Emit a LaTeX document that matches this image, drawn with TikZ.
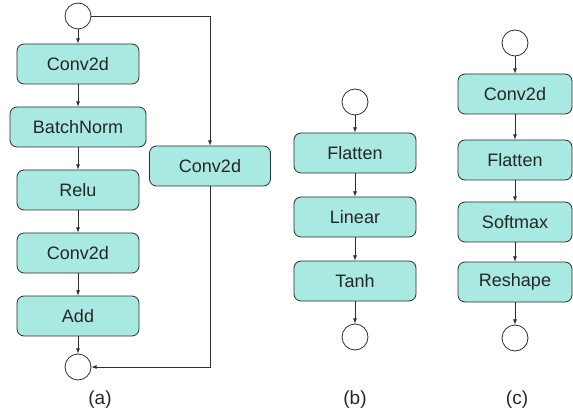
\documentclass[tikz,border=0pt]{standalone}
\usepackage{fontspec}
\setmainfont{Liberation Sans}
\usetikzlibrary{arrows}
\definecolor{layerfill}{RGB}{168,233,225}
\definecolor{edgegray}{RGB}{45,45,45}
\tikzset{
  layer/.style={draw=edgegray,fill=layerfill,rounded corners=7pt,line width=0.8pt,
    minimum width=122pt,minimum height=40pt,inner sep=0pt,text=black!85,
    font=\fontsize{18}{21}\selectfont},
  port/.style={draw=edgegray,circle,minimum size=26pt,inner sep=0pt,line width=0.8pt},
  flow/.style={->,draw=edgegray,line width=0.8pt},
  caption/.style={font=\fontsize{19}{22}\selectfont,text=black!85}
}

\begin{document}
\begin{tikzpicture}[x=1pt,y=-1pt,>=latex]
  \useasboundingbox (0,0) rectangle (573,414);
  % The residual block
  \node[port] (ain) at (78,16) {};
  \node[layer] (a1) at (78,64) {Conv2d};
  \node[layer,minimum width=136pt] (a2) at (78,127) {BatchNorm};
  \node[layer] (a3) at (78,190) {Relu};
  \node[layer] (a4) at (78,253) {Conv2d};
  \node[layer] (a5) at (78,316) {Add};
  \node[port] (aout) at (78,367) {};
  \node[layer,minimum width=121pt] (askip) at (210,166) {Conv2d};
  \foreach \from/\to in {ain/a1,a1/a2,a2/a3,a3/a4,a4/a5,a5/aout}
    \draw[flow] (\from) -- (\to);
  % The shortcut branch
  \draw[flow] (ain.east) -| (askip.north);
  \draw[flow] (askip.south) |- (aout.east);
  \node[caption] (capa) at (100,400) {(a)};

  % The value head
  \node[port] (bin) at (355,102) {};
  \node[layer] (b1) at (355,153) {Flatten};
  \node[layer] (b2) at (355,217) {Linear};
  \node[layer] (b3) at (355,281) {Tanh};
  \node[port] (bout) at (355,337) {};
  \foreach \from/\to in {bin/b1,b1/b2,b2/b3,b3/bout}
    \draw[flow] (\from) -- (\to);
  \node[caption] (capb) at (355,400) {(b)};

  % The policy head
  \node[port] (cin) at (515,43) {};
  \node[layer,minimum width=114pt] (c1) at (515,94) {Conv2d};
  \node[layer,minimum width=114pt] (c2) at (515,160) {Flatten};
  \node[layer,minimum width=114pt] (c3) at (515,222) {Softmax};
  \node[layer,minimum width=114pt] (c4) at (515,282) {Reshape};
  \node[port] (cout) at (515,338) {};
  \foreach \from/\to in {cin/c1,c1/c2,c2/c3,c3/c4,c4/cout}
    \draw[flow] (\from) -- (\to);
  \node[caption] (capc) at (517,400) {(c)};
\end{tikzpicture}
\end{document}
